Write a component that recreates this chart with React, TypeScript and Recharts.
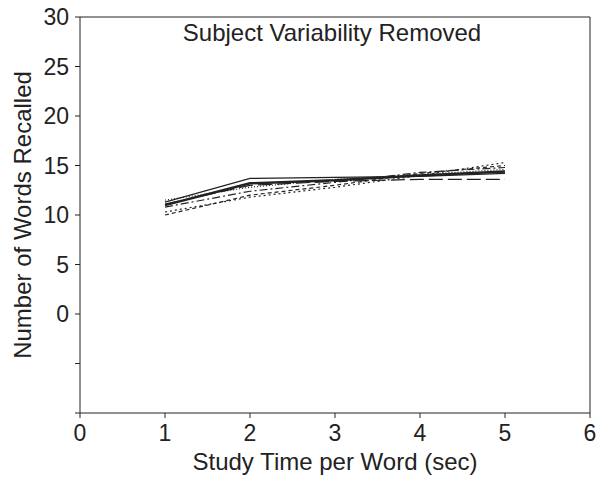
import { LineChart, Line, XAxis, YAxis, ReferenceLine } from "recharts";

// Study time per word (sec)
const studyTimes = [1, 2, 3, 4, 5];

// Words recalled per condition
const seriesA = [11.0, 13.2, 13.5, 14.0, 14.4];
const seriesB = [11.3, 13.7, 13.8, 13.9, 14.2];
const seriesC = [11.1, 13.0, 13.4, 13.6, 13.6];
const seriesD = [10.3, 11.8, 12.8, 14.0, 15.3];
const seriesE = [10.0, 12.0, 13.0, 14.2, 15.0];
const seriesF = [10.8, 12.4, 13.3, 14.3, 14.8];
const seriesG = [11.5, 12.8, 13.6, 14.1, 14.6];

const xTicks = [0, 1, 2, 3, 4, 5, 6];
const yTicks = [-10, -5, 0, 5, 10, 15, 20, 25, 30];

const data = studyTimes.map((t, i) => ({
  t,
  a: seriesA[i],
  b: seriesB[i],
  c: seriesC[i],
  d: seriesD[i],
  e: seriesE[i],
  f: seriesF[i],
  g: seriesG[i],
}));

const ink = "#222";
const font = "'Liberation Sans', Arial, sans-serif";

export default function App() {
  const tickStyle = { fill: ink, fontSize: 23, fontFamily: font };
  return (
    <div style={{ position: "absolute", left: 0, top: 0, width: 597, height: 478, background: "#fff" }}>
      <LineChart
        width={597}
        height={478}
        data={data}
        margin={{ top: 17, right: 7, bottom: 0, left: 0 }}
      >
        <XAxis
          dataKey="t"
          type="number"
          domain={[0, 6]}
          ticks={xTicks}
          height={65}
          stroke={ink}
          tickSize={5}
          tickMargin={7}
          tick={tickStyle}
          label={{
            value: "Study Time per Word (sec)",
            position: "insideBottom",
            offset: 8,
            style: { fill: ink, fontSize: 24, fontFamily: font },
          }}
        />
        <YAxis
          type="number"
          domain={[-10, 30]}
          ticks={yTicks}
          width={80}
          stroke={ink}
          tickSize={5}
          tickMargin={6}
          tick={tickStyle}
          tickFormatter={(v) => (v < 0 ? "" : String(v))}
          label={{
            value: "Number of Words Recalled",
            angle: -90,
            position: "insideLeft",
            offset: 22,
            style: { fill: ink, fontSize: 24, fontFamily: font, textAnchor: "middle" },
          }}
        />
        <ReferenceLine y={30} stroke={ink} />
        <ReferenceLine x={6} stroke={ink} />
        <Line dataKey="a" stroke={ink} strokeWidth={2.5} dot={false} isAnimationActive={false} />
        <Line dataKey="b" stroke={ink} strokeWidth={1.2} dot={false} isAnimationActive={false} />
        <Line dataKey="c" stroke={ink} strokeWidth={1.2} strokeDasharray="14 5" dot={false} isAnimationActive={false} />
        <Line dataKey="d" stroke={ink} strokeWidth={1.2} strokeDasharray="2 3" dot={false} isAnimationActive={false} />
        <Line dataKey="e" stroke={ink} strokeWidth={1.2} strokeDasharray="4 3" dot={false} isAnimationActive={false} />
        <Line dataKey="f" stroke={ink} strokeWidth={1.2} strokeDasharray="8 3 2 3" dot={false} isAnimationActive={false} />
        <Line dataKey="g" stroke={ink} strokeWidth={1.2} strokeDasharray="1 2" dot={false} isAnimationActive={false} />
      </LineChart>
      <div
        style={{
          position: "absolute",
          left: 77,
          width: 510,
          top: 19,
          textAlign: "center",
          fontFamily: font,
          fontSize: 24,
          color: ink,
        }}
      >
        Subject Variability Removed
      </div>
    </div>
  );
}
